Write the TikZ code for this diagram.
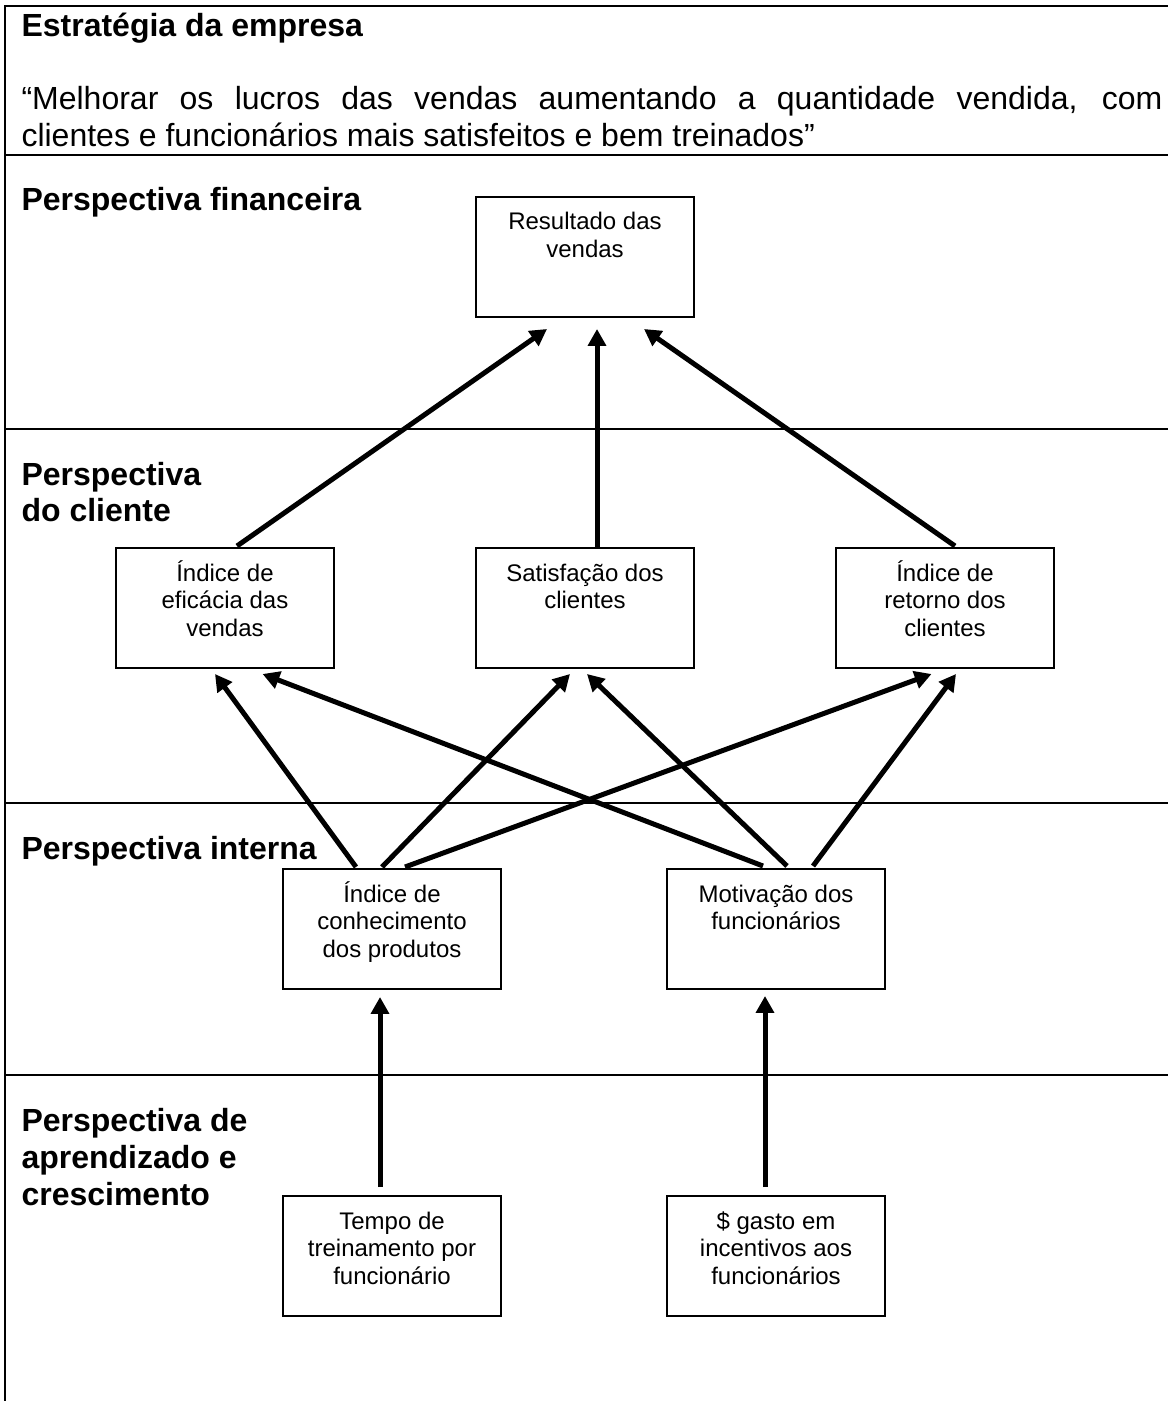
\documentclass[tikz,border=0pt]{standalone}
\usepackage{fontspec}
\setmainfont{Liberation Sans}
\usetikzlibrary{arrows.meta,calc}
\newcommand\boxlines[1]{\begin{tabular}[t]{@{}c@{}}#1\end{tabular}}
\newcommand\headlines[1]{\begin{tabular}[t]{@{}l@{}}#1\end{tabular}}
\begin{document}
\begin{tikzpicture}[x=0.375pt,y=-0.375pt,
  rule/.style={line width=0.75pt},
  box/.style={draw,line width=0.5pt,inner sep=0pt,outer sep=0pt,anchor=north,
    minimum width=81.75pt,minimum height=45pt,
    text height=12.375pt,text depth=32.625pt,
    font=\fontsize{9pt}{10.35pt}\selectfont},
  heading/.style={anchor=base west,inner sep=0pt,
    font=\fontsize{12pt}{13.8pt}\selectfont\bfseries},
  mission/.style={anchor=base west,inner sep=0pt,
    font=\fontsize{12pt}{13.8pt}\selectfont},
  link/.style={line width=1.875pt,-{Triangle[length=6.3pt,width=6.6pt]}}]
\useasboundingbox (0,0) rectangle (1168,1401);

% table frame and row separators
\draw[rule] (5,1401) -- (5,6) -- (1168,6);
\foreach \y in {154.6,428.7,802.7,1075}
  \draw[rule] (5,\y) -- (1168,\y);

% strategy cell
\node[heading] (hstrat) at (21,37) {Estratégia da empresa};
\node[mission] (mtext) at (21,110) {\parbox[t]{427.875pt}{\hbadness=10000
  “Melhorar os lucros das vendas aumentando a quantidade vendida, com\linebreak
  clientes e funcionários mais satisfeitos e bem treinados”}};

% perspective titles
\node[heading] (hfin) at (21,211) {Perspectiva financeira};
\node[heading] (hcli) at (21,485) {\headlines{Perspectiva\\do cliente}};
\node[heading] (hint) at (21,859) {Perspectiva interna};
\node[heading] (hlrn) at (21,1131.7) {\headlines{Perspectiva de\\aprendizado e\\crescimento}};

% indicator boxes
\node[box] (R)  at (585,197)  {\boxlines{Resultado das\\vendas}};
\node[box] (E)  at (225,548)  {\boxlines{Índice de\\eficácia das\\vendas}};
\node[box] (S)  at (585,548)  {\boxlines{Satisfação dos\\clientes}};
\node[box] (T)  at (945,548)  {\boxlines{Índice de\\retorno dos\\clientes}};
\node[box] (K)  at (392,869)  {\boxlines{Índice de\\conhecimento\\dos produtos}};
\node[box] (M)  at (776,869)  {\boxlines{Motivação dos\\funcionários}};
\node[box] (L1) at (392,1196) {\boxlines{Tempo de\\treinamento por\\funcionário}};
\node[box] (L2) at (776,1196) {\boxlines{\$ gasto em\\incentivos aos\\funcionários}};

% cause-and-effect links
\draw[link] ($(E.north)+(12,-2)$)  -- ($(R.south)+(-38,12)$);
\draw[link] ($(S.north)+(12,-1)$)  -- ($(R.south)+(12,12)$);
\draw[link] ($(T.north)+(10,-2)$)  -- ($(R.south)+(59,12)$);

\draw[link] ($(K.north)+(-36,-2)$) -- ($(E.south)+(-10,6)$);
\draw[link] ($(K.north)+(-10,-2)$) -- ($(S.south)+(-15,6)$);
\draw[link] ($(K.north)+(13,-2)$)  -- ($(T.south)+(-13.5,6)$);
\draw[link] ($(M.north)+(-13,-3)$) -- ($(E.south)+(37.6,6)$);
\draw[link] ($(M.north)+(11,-3)$)  -- ($(S.south)+(2,6)$);
\draw[link] ($(M.north)+(37,-3)$)  -- ($(T.south)+(11,6)$);

\draw[link] ($(L1.north)+(-12,-9)$) -- ($(K.south)+(-12,8)$);
\draw[link] ($(L2.north)+(-11,-9)$) -- ($(M.south)+(-11,7)$);
\end{tikzpicture}
\end{document}
